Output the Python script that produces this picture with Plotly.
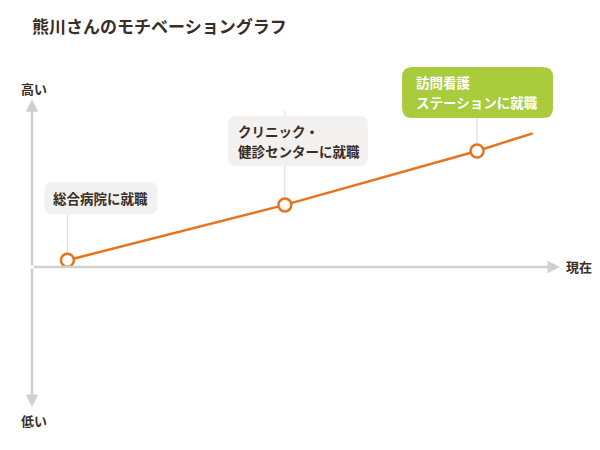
import plotly.graph_objects as go

# ---- data ----
title_text = "熊川さんのモチベーショングラフ"
stage_lines = [["総合病院に就職"],
               ["クリニック・", "健診センターに就職"],
               ["訪問看護", "ステーションに就職"]]
stage_x = [0.7, 5.0, 8.8]          # time position
stage_y = [0.25, 2.3, 4.3]          # motivation level
now_x = 9.9
now_y = 4.95
axis_high = "高い"
axis_low = "低い"
axis_now = "現在"

# ---- styles ----
FONT = "Noto Sans CJK JP"
TEXT = "#3a2d27"
ORANGE = "#e8731c"
AXIS = "#d0d0d0"
box_bg = ["#f3f1f0", "#f3f1f0", "#a8cc3c"]
box_fg = [TEXT, TEXT, "#ffffff"]
# box edges in pixels relative to the marker: left, right, bottom, top
box_px = [(-23, 90, 46, 78), (-57, 83, 39, 89), (-75, 76, 33, 84)]
box_radius = [8, 9, 10]
text_left = [-15, -48, -62]
line_gap = 20
conn_top = [46, 94, 33]

x_range = [0, 10.44]
y_axis_top = 6.22
y_axis_bottom = -5.19
y_range = [-5.19, 7.67]

line_x = stage_x + [now_x]
line_y = stage_y + [now_y]


def rounded(l, r, b, t, rad):
    return (f"M{l+rad},{b} L{r-rad},{b} Q{r},{b} {r},{b+rad} L{r},{t-rad} Q{r},{t} {r-rad},{t} "
            f"L{l+rad},{t} Q{l},{t} {l},{t-rad} L{l},{b+rad} Q{l},{b} {l+rad},{b} Z")


fig = go.Figure()
fig.add_trace(go.Scatter(x=line_x, y=line_y, mode="lines",
                         line=dict(color=ORANGE, width=2.5), hoverinfo="skip"))
fig.add_trace(go.Scatter(x=stage_x, y=stage_y, mode="markers",
                         marker=dict(size=13, color="white",
                                     line=dict(color=ORANGE, width=2.5)),
                         hoverinfo="skip"))

shapes = []
for i in range(len(stage_x)):
    shapes.append(dict(type="line", xref="x", yref="y", xsizemode="pixel", ysizemode="pixel",
                       xanchor=stage_x[i], yanchor=stage_y[i], x0=0, x1=0, y0=7, y1=conn_top[i],
                       line=dict(color="#d8d8d8", width=1), layer="below"))
for i in range(len(stage_x)):
    l, r, b, t = box_px[i]
    shapes.append(dict(type="path", xref="x", yref="y", xsizemode="pixel", ysizemode="pixel",
                       xanchor=stage_x[i], yanchor=stage_y[i], path=rounded(l, r, b, t, box_radius[i]),
                       fillcolor=box_bg[i], line=dict(width=0), layer="below"))

ann = []
# axis arrows
for (tx, ty) in [(x_range[1], 0), (0, y_axis_top), (0, y_axis_bottom)]:
    ann.append(dict(x=tx, y=ty, ax=0, ay=0, xref="x", yref="y", axref="x", ayref="y",
                    showarrow=True, arrowhead=2, arrowsize=1, arrowwidth=2.5,
                    arrowcolor=AXIS, text=""))
# label texts, one annotation per line
for i, lines in enumerate(stage_lines):
    l, r, b, t = box_px[i]
    mid = (b + t) / 2
    n = len(lines)
    for j, s in enumerate(lines):
        ys = mid + ((n - 1) / 2 - j) * line_gap
        ann.append(dict(x=stage_x[i], y=stage_y[i], xref="x", yref="y",
                        xanchor="left", yanchor="middle", xshift=text_left[i] - 1, yshift=ys,
                        showarrow=False, text="<b>" + s + "</b>",
                        font=dict(family=FONT, size=13.5, color=box_fg[i])))
# axis labels
ann.append(dict(x=0, y=y_axis_top, xref="x", yref="y", yshift=11, xshift=2, showarrow=False,
                text="<b>" + axis_high + "</b>", font=dict(family=FONT, size=13, color=TEXT)))
ann.append(dict(x=0, y=y_axis_bottom, xref="x", yref="y", yshift=-13, xshift=2, showarrow=False,
                text="<b>" + axis_low + "</b>", font=dict(family=FONT, size=13, color=TEXT)))
ann.append(dict(x=x_range[1], y=0, xref="x", yref="y", xanchor="left", xshift=4, showarrow=False,
                text="<b>" + axis_now + "</b>", font=dict(family=FONT, size=13, color=TEXT)))
# title
ann.append(dict(x=0, y=1, xref="paper", yref="paper", xanchor="left", yanchor="middle",
                yshift=35, xshift=-2, showarrow=False,
                text="<b>" + title_text + "</b>", font=dict(family=FONT, size=17, color=TEXT)))

fig.update_layout(
    width=592, height=442,
    margin=dict(l=24, r=40, t=52, b=43),
    paper_bgcolor="white", plot_bgcolor="white",
    showlegend=False,
    xaxis=dict(range=x_range, visible=False, fixedrange=True),
    yaxis=dict(range=y_range, visible=False, fixedrange=True),
    shapes=shapes,
    annotations=ann,
)
fig.write_html("out.html", config={"displayModeBar": False})
